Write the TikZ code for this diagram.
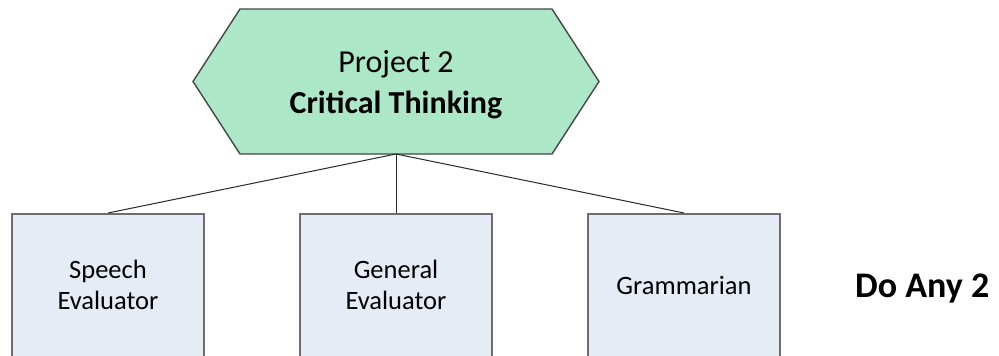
\documentclass[tikz,border=0pt]{standalone}
\usepackage{fontspec}
\setmainfont{Carlito}
\definecolor{hexfill}{RGB}{172,232,200}
\definecolor{hexline}{RGB}{70,70,70}
\definecolor{boxfill}{RGB}{230,236,246}
\definecolor{boxline}{RGB}{110,110,110}
\definecolor{conn}{RGB}{40,40,40}
\tikzset{
  rolebox/.style={draw=boxline, line width=1.6pt, fill=boxfill, minimum width=192pt, minimum height=170pt, inner sep=0pt, anchor=north},
  roletext/.style={inner sep=0pt, align=center, anchor=base, font=\fontsize{26.5}{31}\selectfont},
  link/.style={draw=conn, line width=1pt},
}
\begin{document}
\begin{tikzpicture}[x=1pt,y=-1pt]
\useasboundingbox (0,0) rectangle (999,356);
\clip (0,0) rectangle (999,356);
\fill[white] (0,0) rectangle (999,356);
% hexagon
\draw[hexline, line width=1.4pt, fill=hexfill] (193,81.5) -- (240,9) -- (552,9) -- (599,81.5) -- (552,154) -- (240,154) -- cycle;
\node[inner sep=0pt, align=center, anchor=base, font=\fontsize{32}{41}\selectfont] (hex) at (396,113) {Project 2\\\textbf{Critical Thinking}};
\coordinate (hexb) at (396,154);
% boxes
\node[rolebox] (b1) at (108,213) {};
\node[rolebox] (b2) at (396,213) {};
\node[rolebox] (b3) at (684,213) {};
\node[roletext] (t1) at (108,309) {Speech\\Evaluator};
\node[roletext] (t2) at (396,309) {General\\Evaluator};
\node[roletext] (t3) at (684,294) {Grammarian};
\node[inner sep=0pt, anchor=base west, font=\fontsize{36}{44}\selectfont\bfseries] (any) at (855,297) {Do Any 2};
% connectors
\draw[link] (hexb) -- (b1.north);
\draw[link] (hexb) -- (b2.north);
\draw[link] (hexb) -- (b3.north);
\end{tikzpicture}
\end{document}
